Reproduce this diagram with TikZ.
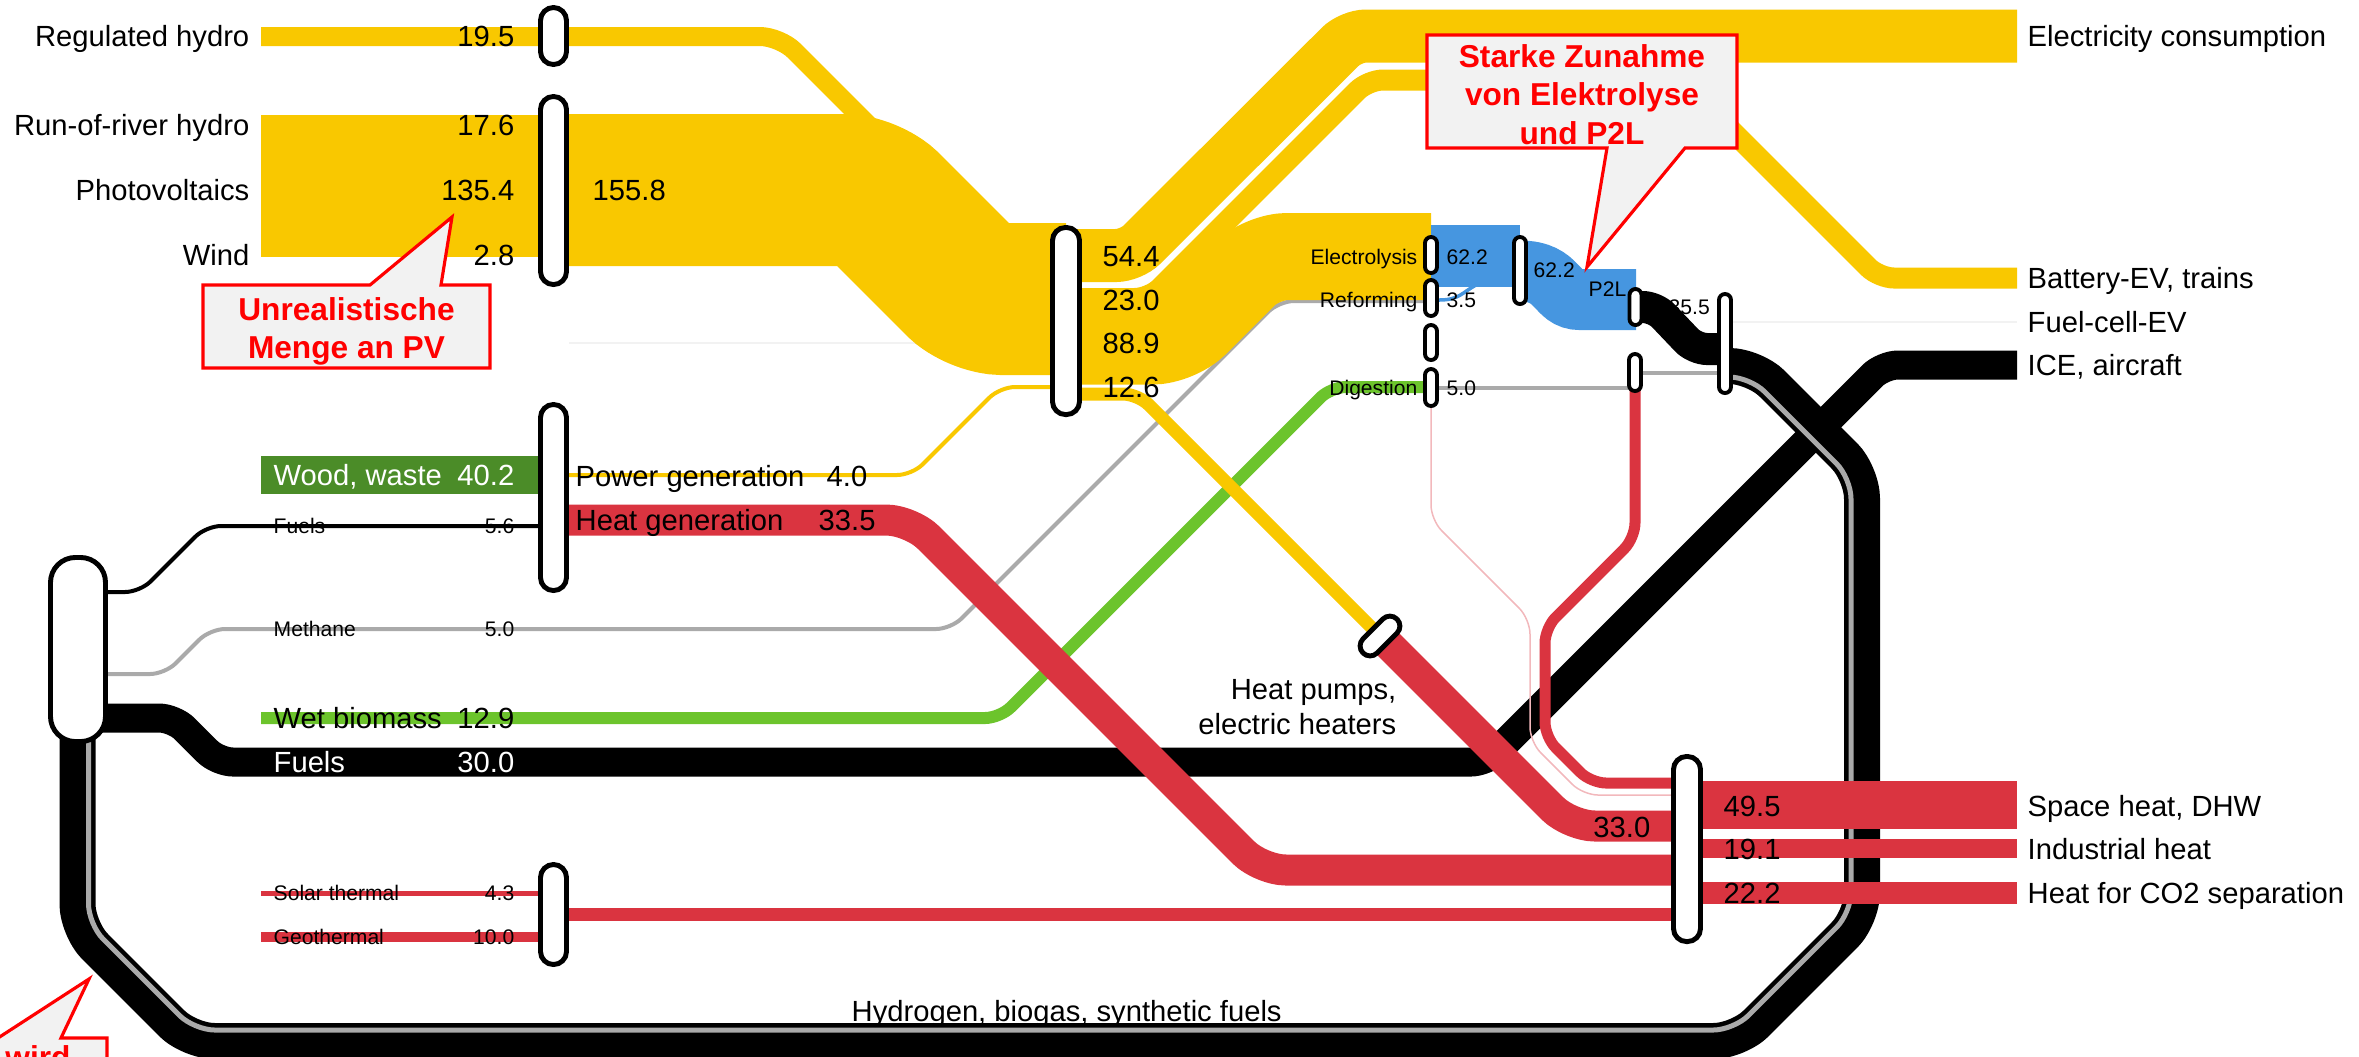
\documentclass[tikz,border=0pt]{standalone}
\usepackage{fontspec}
\setmainfont{Liberation Sans}
\usepackage{xcolor}

\definecolor{elyellow}{RGB}{249,200,0}
\definecolor{heatred}{RGB}{218,52,64}
\definecolor{woodgreen}{RGB}{75,140,40}
\definecolor{wetgreen}{RGB}{108,196,44}
\definecolor{htwoblue}{RGB}{70,150,224}
\definecolor{methgray}{RGB}{170,170,170}
\definecolor{notefill}{RGB}{242,242,242}

\newcommand{\lblfont}{\fontsize{8.3}{10}\selectfont}
\newcommand{\smallfont}{\fontsize{6}{7}\selectfont}
\newcommand{\notefont}{\bfseries\fontsize{9}{11}\selectfont}

\begin{document}
\begin{tikzpicture}[x=0.01cm,y=-0.01cm,
    band/.style={line width=#1*0.01cm, rounded corners=0.15cm},
    lbl/.style={font=\lblfont, inner sep=0pt, text height=5.9pt, text depth=0pt},
    slbl/.style={font=\smallfont, inner sep=0pt, text height=4.3pt, text depth=0pt},
    bus/.style={draw, fill=white, line width=1.4pt, inner sep=0pt, minimum width=0.26cm, rounded corners=0.13cm},
    sbus/.style={draw, fill=white, line width=1.1pt, inner sep=0pt, minimum width=0.12cm, rounded corners=0.06cm},
    note/.style={draw=red, fill=notefill, line width=0.9pt},
    notetext/.style={font=\notefont, text=red, align=center, inner sep=0pt}]
    \useasboundingbox (0,0) rectangle (2359,1056);
    \clip (0,0) rectangle (2359,1056);

    % faint empty flows
    \draw[black!5, line width=0.02cm] (569,343) -- (1050,343);
    \draw[black!5, line width=0.02cm] (1733,322) -- (2017,322);

    % fossil fuels to ICE
    \draw[band=29] (78,718) -- (174,718) -- (218,762) -- (1486,762) -- (1883,365) -- (2017,365);

    % hydrogen, biogas, synthetic fuels loop
    \draw[band=36, rounded corners=0.25cm] (77.5,700) -- (77.5,929) -- (189.5,1041) -- (1738.5,1041)
        -- (1862,917.5) -- (1862,473.5) -- (1754.5,366) -- (1722,366);
    \draw[methgray, band=5, rounded corners=0.205cm] (88.5,700) -- (88.5,924.4) -- (194.1,1030) -- (1733.9,1030)
        -- (1851,912.9) -- (1851,478.1) -- (1749.9,377) -- (1722,377);

    % methane and biogas
    \draw[methgray, band=4] (78,674) -- (165,674) -- (210,629) -- (951,629) -- (1279,301) -- (1431,301);
    \draw[methgray, band=4] (1431,388) -- (1635,388);
    \draw[methgray, band=4] (1635,373) -- (1725,373);

    % biomass
    \draw[wetgreen, band=12] (261,718) -- (1000,718) -- (1331,387) -- (1431,387);
    \fill[woodgreen] (261,456) rectangle (553,494);
    \draw[band=4] (78,592) -- (140,592) -- (206,526) -- (553,526);

    % heat
    \draw[heatred, band=31, rounded corners=0.25cm] (553,520) -- (911,520) -- (1261,870) -- (1687,870);
    \draw[heatred, band=5] (261,893) -- (553,893);
    \draw[heatred, band=10] (261,937) -- (553,937);
    \draw[heatred, band=13] (553,914.5) -- (1687,914.5);
    \draw[heatred, band=11] (1635,372) -- (1635,538) -- (1545,628) -- (1545,737) -- (1591,783) -- (1687,783);
    \draw[heatred!35, line width=0.015cm, rounded corners=0.15cm] (1431,388) -- (1431,520) -- (1530,619)
        -- (1530,742) -- (1583,795) -- (1687,795);
    \draw[heatred, band=31, rounded corners=0.25cm] (1380,636) -- (1570,826) -- (1687,826);
    \fill[heatred] (1687,781) rectangle (2017,829);
    \fill[heatred] (1687,839) rectangle (2017,858);
    \fill[heatred] (1687,882) rectangle (2017,904);

    % electricity
    \draw[elyellow, band=19, rounded corners=0.2cm] (261,36.5) -- (780,36.5) -- (940,196.5);
    \fill[elyellow] (261,115) rectangle (553,257);
    \draw[elyellow, band=152, rounded corners=0.25cm] (553,190) -- (868.5,190) -- (977.5,299) -- (1066,299);
    \draw[elyellow, band=87, rounded corners=0.25cm] (1066,341) -- (1177.5,341) -- (1262,256.5) -- (1431,256.5);
    \draw[elyellow, band=13] (1066,394) -- (1138,394) -- (1380,636);
    \draw[elyellow, band=21] (1066,298.5) -- (1149.5,298.5) -- (1368,80) -- (1681,80) -- (1879,278) -- (2017,278);
    \draw[white, band=60] (1081,255.5) -- (1131,255.5) -- (1351,36) -- (2017,36);
    \draw[elyellow, band=53] (1066,255.5) -- (1131,255.5) -- (1351,36) -- (2017,36);
    \draw[elyellow, band=4] (553,475) -- (912,475) -- (1000,387) -- (1066,387);

    % hydrogen
    \fill[htwoblue] (1431,225) rectangle (1520,287);
    \draw[htwoblue, band=61] (1520,271) .. controls (1560,271) and (1555,299.5) .. (1595,299.5) -- (1636,299.5);
    \draw[htwoblue, band=3.5] (1439,300) .. controls (1460,300) and (1462,292) .. (1478,284);

    % P2L output
    \node[slbl, anchor=west] (v355) at (1668,307) {35.5};
    \draw[band=32, rounded corners=0.12cm] (1635,307) -- (1655,307) -- (1695,349) -- (1725,349);

    % nodes
    \node[bus, minimum height=0.57cm] (rh) at (553.5,36) {};
    \node[bus, minimum height=1.88cm] (ren) at (553.5,190.5) {};
    \node[bus, minimum height=1.86cm] (chp) at (553.5,497.5) {};
    \node[bus, minimum height=1.00cm] (sol) at (553.5,914.5) {};
    \node[bus, minimum height=1.87cm, minimum width=0.27cm] (cen) at (1066,321) {};
    \node[bus, minimum height=1.85cm, minimum width=0.27cm] (heat) at (1687,849) {};
    \node[bus, minimum height=1.84cm, minimum width=0.55cm, rounded corners=0.25cm] (lft) at (78,649.5) {};
    \node[bus, minimum width=0.48cm, minimum height=0.2cm, rounded corners=0.1cm, rotate=45] (hp) at (1380,636) {};
    \node[sbus, minimum height=0.36cm] (ely) at (1431,255) {};
    \node[sbus, minimum height=0.36cm] (ref) at (1431,298) {};
    \node[sbus, minimum height=0.35cm] (mid) at (1431,342.5) {};
    \node[sbus, minimum height=0.37cm] (dig) at (1431,387.5) {};
    \node[sbus, minimum height=0.67cm] (syn) at (1520,270.5) {};
    \node[sbus, minimum height=0.36cm] (ptl) at (1635.5,307) {};
    \node[sbus, minimum height=0.37cm] (dst) at (1635,372.5) {};
    \node[sbus, minimum height=0.99cm] (fcn) at (1725,343.5) {};

    % sources
    \node[lbl, anchor=east] at (250,36.5) {Regulated hydro};
    \node[lbl, anchor=east] at (250,125) {Run-of-river hydro};
    \node[lbl, anchor=east] at (250,190) {Photovoltaics};
    \node[lbl, anchor=east] at (250,255) {Wind};
    \node[lbl, anchor=east] at (515,36.5) {19.5};
    \node[lbl, anchor=east] at (515,125) {17.6};
    \node[lbl, anchor=east] at (515,190) {135.4};
    \node[lbl, anchor=east] at (515,255) {2.8};
    \node[lbl, anchor=west] at (592,190) {155.8};
    \node[lbl, anchor=west, text=white] at (273,475) {Wood, waste};
    \node[lbl, anchor=east, text=white] at (515,475) {40.2};
    \node[slbl, anchor=west] at (273,526) {Fuels};
    \node[slbl, anchor=east] at (515,526) {5.6};
    \node[slbl, anchor=west] at (273,629) {Methane};
    \node[slbl, anchor=east] at (515,629) {5.0};
    \node[lbl, anchor=west] at (273,718) {Wet biomass};
    \node[lbl, anchor=east] at (515,718) {12.9};
    \node[lbl, anchor=west, text=white] at (273,762) {Fuels};
    \node[lbl, anchor=east, text=white] at (515,762) {30.0};
    \node[slbl, anchor=west] at (273,893) {Solar thermal};
    \node[slbl, anchor=east] at (515,893) {4.3};
    \node[slbl, anchor=west] at (273,937) {Geothermal};
    \node[slbl, anchor=east] at (515,937) {10.0};

    % conversion
    \node[lbl, anchor=west] at (575,476) {Power generation};
    \node[lbl, anchor=west] at (826,476) {4.0};
    \node[lbl, anchor=west] at (575,520) {Heat generation};
    \node[lbl, anchor=west] at (818,520) {33.5};
    \node[lbl, anchor=west] at (1102,256) {54.4};
    \node[lbl, anchor=west] at (1102,300) {23.0};
    \node[lbl, anchor=west] at (1102,343) {88.9};
    \node[lbl, anchor=west] at (1102,387) {12.6};
    \node[slbl, anchor=east] at (1418,257) {Electrolysis};
    \node[slbl, anchor=east] at (1418,300) {Reforming};
    \node[slbl, anchor=east] at (1418,388) {Digestion};
    \node[slbl, anchor=west] at (1446,257) {62.2};
    \node[slbl, anchor=west] at (1446,300) {3.5};
    \node[slbl, anchor=west] at (1446,388) {5.0};
    \node[slbl, anchor=west] at (1533,270) {62.2};
    \node[slbl, anchor=west] at (1588,289) {P2L};
    \node[font=\lblfont, align=right, inner sep=0pt, anchor=north east] at (1397,678.5) {Heat pumps,\\electric heaters};
    \node[lbl, anchor=east] at (1651,827) {33.0};
    \node[lbl, anchor=west] at (1723,806) {49.5};
    \node[lbl, anchor=west] at (1723,849) {19.1};
    \node[lbl, anchor=west] at (1723,893) {22.2};
    \node[lbl, anchor=west] at (851,1011) {Hydrogen, biogas, synthetic fuels};

    % uses
    \node[lbl, anchor=west] at (2027,36) {Electricity consumption};
    \node[lbl, anchor=west] at (2027,278) {Battery-EV, trains};
    \node[lbl, anchor=west] at (2027,322) {Fuel-cell-EV};
    \node[lbl, anchor=west] at (2027,365) {ICE, aircraft};
    \node[lbl, anchor=west] at (2027,806) {Space heat, DHW};
    \node[lbl, anchor=west] at (2027,849) {Industrial heat};
    \node[lbl, anchor=west] at (2027,893) {Heat for CO2 separation};

    % comments
    \draw[note] (203,285) -- (370,285) -- (452,217) -- (441,285) -- (490,285) -- (490,368) -- (203,368) -- cycle;
    \node[notetext, anchor=north] at (346.5,296.5) {Unrealistische\\Menge an PV};
    \draw[note] (1427,35) -- (1737,35) -- (1737,148) -- (1685,148) -- (1587,267) -- (1607,148) -- (1427,148) -- cycle;
    \node[notetext, anchor=north] at (1582,43.5) {Starke Zunahme\\von Elektrolyse\\und P2L};
    \draw[note] (-60,1038) -- (-2,1038) -- (89,979) -- (61,1038) -- (107,1038) -- (107,1120) -- (-60,1120) -- cycle;
    \node[notetext, anchor=north] at (38,1045) {wird};
\end{tikzpicture}
\end{document}
